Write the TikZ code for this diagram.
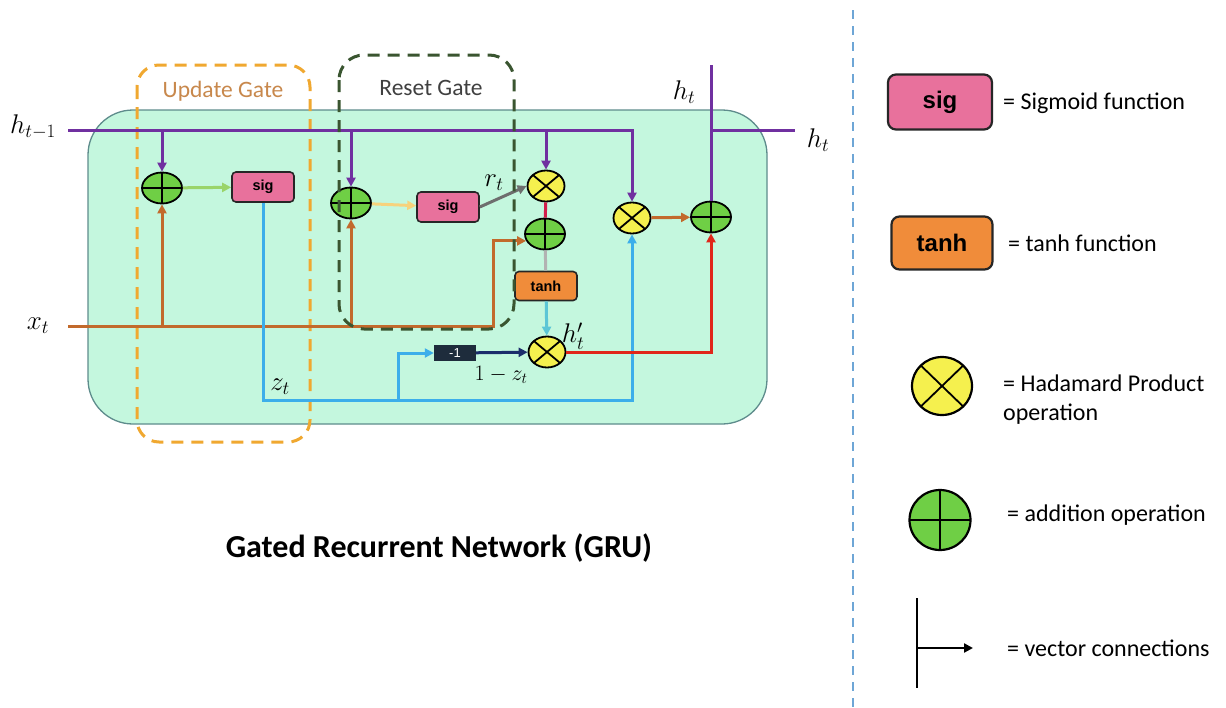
\RequirePackage{fix-cm}
\documentclass[tikz,border=0pt]{standalone}
\usepackage{amsmath,amssymb}
\usepackage{xcolor}
\usepackage{fontspec}
\setmainfont{Carlito}
\newfontfamily\arial{Liberation Sans}
\usepackage{tikz}
\usetikzlibrary{arrows.meta,shapes.geometric,positioning,calc}
\definecolor{menta}{HTML}{C4F7DE}
\definecolor{bordementa}{HTML}{5E8C8C}
\definecolor{violeta}{HTML}{7030A0}
\definecolor{marron}{HTML}{C26A2C}
\definecolor{celeste}{HTML}{3CAEEA}
\definecolor{rojo}{HTML}{E0261A}
\definecolor{rosa}{HTML}{E8719C}
\definecolor{naranja}{HTML}{F08C3A}
\definecolor{amarillo}{HTML}{F5F04E}
\definecolor{verde}{HTML}{6FCF45}
\definecolor{marino}{HTML}{1B2D6B}
\definecolor{pizarra}{HTML}{1E2C3C}
\definecolor{naranjagate}{HTML}{F0A830}
\definecolor{textogate}{HTML}{C8884C}
\definecolor{verdeoscuro}{HTML}{3A5530}
\definecolor{separador}{HTML}{6EA6D6}
\definecolor{verdeclaro}{HTML}{9AD46A}
\definecolor{amarilloclaro}{HTML}{F7D27C}
\definecolor{gris}{HTML}{6E6E6E}
\definecolor{carmin}{HTML}{D21E4A}
\definecolor{cian}{HTML}{5CC6D6}
\tikzset{
  suma/.style={ellipse,draw=black,line width=1.8pt,fill=verde,inner sep=0pt,minimum width=40pt,minimum height=31pt,
    path picture={\draw[line width=1.8pt] (path picture bounding box.north) -- (path picture bounding box.south)
      (path picture bounding box.west) -- (path picture bounding box.east);}},
  prod/.style={ellipse,draw=black,line width=1.8pt,fill=amarillo,inner sep=0pt,minimum width=37pt,minimum height=31pt,
    path picture={\draw[line width=1.8pt] (path picture bounding box.north west) -- (path picture bounding box.south east)
      (path picture bounding box.south west) -- (path picture bounding box.north east);}},
  caja/.style={rounded corners=4pt,draw=black!85,line width=1.6pt,inner sep=0pt,
    font=\arial\bfseries\fontsize{14.5}{17}\selectfont,minimum width=62pt,minimum height=30pt},
  cajaley/.style={caja,rounded corners=8pt,line width=2.2pt,minimum width=104pt,minimum height=55pt,
    font=\arial\bfseries\fontsize{24}{28}\selectfont},
  flecha/.style={-{Triangle[length=9pt,width=9pt]},line width=3pt},
  linea/.style={line width=3pt},
  etiq/.style={font=\fontsize{27}{31}\selectfont,inner sep=0pt},
  puerta/.style={line width=3pt,dash pattern=on 12pt off 8pt},
  leyenda/.style={font=\fontsize{24}{29}\selectfont,anchor=west,inner sep=0pt,align=left}
}
\begin{document}
\begin{tikzpicture}[x=1pt,y=-1pt]
\fill[white] (0,0) rectangle (1226,707);
\useasboundingbox (0,0) rectangle (1226,707);
\draw[bordementa,fill=menta,line width=1.3pt,rounded corners=45pt] (88,110) rectangle (767,424);
\draw[naranjagate,puerta,rounded corners=22pt] (137,65) rectangle (310,442);

\coordinate (hin) at (68,130);
\coordinate (xin) at (68,326);
\coordinate (hout) at (711,65);
\coordinate (hder) at (795,130);
\coordinate (xq) at (493,326);
\coordinate (zb) at (398,400);

\node[suma] (s1) at (162,188) {};
\node[caja,fill=rosa] (sig1) at (263,187) {sig};
\node[suma] (s2) at (351,203) {};
\node[caja,fill=rosa] (sig2) at (448,207) {sig};
\node[prod] (p1) at (546,186) {};
\node[suma] (s3) at (545,234) {};
\node[caja,fill=naranja,minimum height=29pt] (tanh) at (546,286) {tanh};
\node[prod] (p3) at (547,352) {};
\node[fill=pizarra,text=white,font=\arial\fontsize{13}{15}\selectfont,minimum width=42pt,minimum height=16pt,inner sep=0pt] (menos) at (455,353) {-1};
\node[prod] (p2) at (632,218) {};
\node[suma] (s4) at (711,217) {};

\draw[flecha,violeta] (hin) -| (p2);
\draw[flecha,violeta] (s1 |- hin) -- (s1);
\draw[flecha,violeta] (s2 |- hin) -- (s2);
\draw[flecha,violeta] (p1 |- hin) -- (p1);
\draw[linea,violeta] (s4) -- (hout);
\draw[linea,violeta] (s4 |- hin) -- (hder);

\draw[flecha,marron] (xin) -- (xq) |- (s3.200);
\draw[flecha,marron] (s1 |- xin) -- (s1);
\draw[flecha,marron] (s2 |- xin) -- (s2);

\draw[flecha,celeste] (sig1) |- (zb) -| (p2);
\draw[flecha,celeste] (zb) |- (menos);
\draw[flecha,marino] (menos) -- (p3);
\draw[flecha,cian] (tanh) -- (p3);
\draw[flecha,rojo] (p3) -| (s4);
\draw[flecha,marron] (p2) -- (s4);
\draw[flecha,verdeclaro] (s1) -- (sig1);
\draw[flecha,amarilloclaro] (s2) -- (sig2);
\draw[flecha,gris] (sig2.east) -- (p1.west);
\draw[linea,carmin] (p1) -- (s3);
\draw[linea,gray!60] (s3) -- (tanh);

\draw[verdeoscuro,puerta,rounded corners=25pt] (339,55) rectangle (514,329);

\node[font=\fontsize{23.5}{28}\selectfont,text=textogate] (tupd) at (223,91) {Update Gate};
\node[font=\fontsize{23.5}{28}\selectfont,text=gray!50!black] (trst) at (431,88) {Reset Gate};

\node[etiq] (lhprev) at (33,127) {$h_{t-1}$};
\node[etiq] (lx) at (38,326) {$x_t$};
\node[etiq] (lz) at (280,387) {$z_t$};
\node[etiq] (lr) at (494,183) {$r_t$};
\node[etiq] (lhp) at (573,336) {$h'_t$};
\node[etiq,font=\fontsize{22}{26}\selectfont] (lunoz) at (501,375) {$1-z_t$};
\node[etiq] (lht) at (684,92) {$h_t$};
\node[etiq] (lhd) at (818,140) {$h_t$};

\node[font=\bfseries\fontsize{32}{37}\selectfont] (titulo) at (439,548) {Gated Recurrent Network (GRU)};

\draw[separador,line width=2.5pt,dash pattern=on 9pt off 7pt] (853,10) -- (853,707);

\node[cajaley,fill=rosa] (lsig) at (940,102) {sig};
\node[leyenda] (tsig) at (1003,103) {= Sigmoid function};
\node[cajaley,fill=naranja,minimum width=101pt,minimum height=53pt] (ltanh) at (942,243) {tanh};
\node[leyenda] (ttanh) at (1008,243) {= tanh function};
\node[prod,minimum width=60pt,minimum height=58pt,line width=2.2pt] (lprod) at (942,386) {};
\node[leyenda] (tprod) at (1003,400) {= Hadamard Product\\operation};
\node[suma,minimum width=61pt,minimum height=60pt,line width=2.2pt] (lsuma) at (940,520) {};
\node[leyenda] (tsuma) at (1007,515) {= addition operation};
\coordinate (varr) at (917,598);
\coordinate (vaba) at (917,688);
\coordinate (vmed) at (917,648);
\coordinate (vfin) at (973,648);
\draw[line width=2.5pt] (varr) -- (vaba);
\draw[flecha,line width=2.5pt] (vmed) -- (vfin);
\node[leyenda] (tvec) at (1007,648) {= vector connections};
\end{tikzpicture}
\end{document}
